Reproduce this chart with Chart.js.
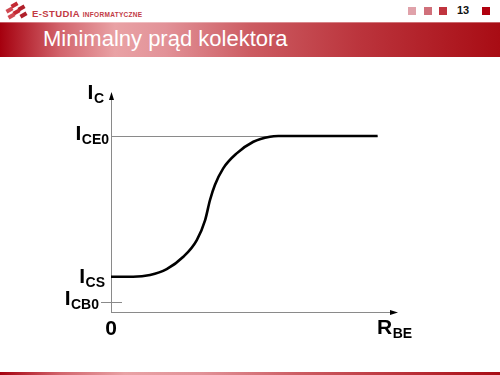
<!DOCTYPE html>
<html>
<head>
<meta charset="utf-8">
<script src="https://cdn.jsdelivr.net/npm/chart.js@4.4.1/dist/chart.umd.min.js"></script>
<style>
  html, body { margin: 0; padding: 0; background: #fff; }
  #page { position: relative; width: 500px; height: 375px; overflow: hidden; background: #fff; font-family: "Liberation Sans", Arial, sans-serif; }
  #band { position: absolute; left: 0; top: 22px; width: 500px; height: 35px;
    background: linear-gradient(to right, #a5000e 0%, #d2646c 12%, #e9a2a5 23%, #e29298 33%, #cc5c62 50%, #bb343c 72%, #a80c14 100%); }
  #band .hl { position: absolute; left: 0; top: 0; width: 500px; height: 1px; background: rgba(255,255,255,0.35); }
  #title { position: absolute; left: 43px; top: 24px; color: #fff; font-size: 22px; line-height: 30px; white-space: nowrap; }
  #foot { position: absolute; left: 0; top: 372px; width: 500px; height: 3px;
    background: linear-gradient(to right, #a5000e 0%, #d2646c 12%, #e9a2a5 25%, #e29298 40%, #cc5c62 60%, #bb343c 80%, #a80c14 100%); }
  #brand { position: absolute; left: 32px; top: 7px; line-height: 10px; color: #c23a44; white-space: nowrap; font-weight: bold; }
  #brand .big { font-size: 9.5px; letter-spacing: 0.4px; }
  #brand .small { font-size: 6.5px; letter-spacing: 0.3px; }
  .sq { position: absolute; top: 7px; width: 8px; height: 8px; }
  #num { position: absolute; left: 457px; top: 4px; font-size: 11px; font-weight: bold; color: #111; }
  .brick { position: absolute; width: 7px; height: 4px; background: #c42a34; transform: rotate(-30deg); }
  canvas#chart { position: absolute; left: 0; top: 0; }
</style>
</head>
<body>
<div id="page">
  <div class="brick" style="left:11px;top:3px;"></div>
  <div class="brick" style="left:18px;top:6px;background:#b0202a;"></div>
  <div class="brick" style="left:6px;top:8px;background:#d04a52;"></div>
  <div class="brick" style="left:13px;top:10px;"></div>
  <div class="brick" style="left:20px;top:13px;background:#b0202a;"></div>
  <div class="brick" style="left:8px;top:14px;background:#d04a52;"></div>
  <div id="brand"><span class="big">E-STUDIA </span><span class="small">INFORMATYCZNE</span></div>
  <div class="sq" style="left:408px;background:#e0a2aa;"></div>
  <div class="sq" style="left:424px;background:#d0707a;"></div>
  <div class="sq" style="left:439px;background:#c0343e;"></div>
  <div id="num">13</div>
  <div class="sq" style="left:482px;background:#b0000e;"></div>
  <div id="band"><div class="hl"></div></div>
  <div id="title">Minimalny prąd kolektora</div>
  <div id="foot"></div>
  <canvas id="chart" width="500" height="375"></canvas>
</div>
<script>
// ---- data ----
const rBE = [0, 7.7, 13.6, 19.4, 25.2, 29.9, 32.8, 34.5, 36.2, 39.1, 43.8, 49.6, 55.4, 58.3, 92.9];
const iC  = [16, 16, 16.8, 19.5, 25.1, 32.7, 41.8, 50.9, 57.7, 65.3, 72.1, 77.4, 79.7, 80, 80];
const yTickValues = [80, 16, 4.5];
const yTickMain = ['I', 'I', 'I'];
const yTickSub = ['CE0', 'CS', 'CB0'];
const xTickValues = [0];
const xTickLabels = ['0'];
const yTitle = ['I', 'C'];
const xTitle = ['R', 'BE'];

const points = rBE.map((x, i) => ({ x: x, y: iC[i] }));

const MAIN_FONT = 'bold 21px "Liberation Sans", Arial, sans-serif';
const SUB_FONT = 'bold 14px "Liberation Sans", Arial, sans-serif';

function drawSub(ctx, main, sub, x, baseline, align) {
  ctx.font = MAIN_FONT;
  const wm = ctx.measureText(main).width;
  ctx.font = SUB_FONT;
  const ws = ctx.measureText(sub).width;
  let start = x;
  if (align === 'right') start = x - wm - ws;
  ctx.textAlign = 'left';
  ctx.textBaseline = 'alphabetic';
  ctx.fillStyle = '#000';
  ctx.font = MAIN_FONT;
  ctx.fillText(main, start, baseline);
  ctx.font = SUB_FONT;
  ctx.fillText(sub, start + wm + 0.5, baseline + 4);
}

const axesPlugin = {
  id: 'axesPlugin',
  beforeDatasetsDraw(chart) {
    const ctx = chart.ctx;
    const xs = chart.scales.x, ys = chart.scales.y;
    const x0 = xs.getPixelForValue(0);
    const y0 = ys.getPixelForValue(0);
    const xEnd = xs.getPixelForValue(xs.max);
    const yEnd = ys.getPixelForValue(ys.max);
    ctx.save();
    ctx.strokeStyle = '#8a8a8a';
    ctx.lineWidth = 1;
    ctx.beginPath();
    ctx.moveTo(Math.round(x0) + 0.5, y0);
    ctx.lineTo(Math.round(x0) + 0.5, yEnd + 4);
    ctx.moveTo(x0, Math.round(y0) + 0.5);
    ctx.lineTo(xEnd - 4, Math.round(y0) + 0.5);
    // ICE0 reference line
    const yc = Math.round(ys.getPixelForValue(yTickValues[0])) + 0.5;
    ctx.moveTo(x0, yc);
    ctx.lineTo(xs.getPixelForValue(rBE[rBE.length - 1]), yc);
    // ICB0 short tick
    const yb = Math.round(ys.getPixelForValue(yTickValues[2])) + 0.5;
    ctx.moveTo(x0 - 10, yb);
    ctx.lineTo(x0 + 11, yb);
    ctx.stroke();
    ctx.restore();
  },
  afterDatasetsDraw(chart) {
    const ctx = chart.ctx;
    const xs = chart.scales.x, ys = chart.scales.y;
    const x0 = Math.round(xs.getPixelForValue(0)) + 0.5;
    const y0 = Math.round(ys.getPixelForValue(0)) + 0.5;
    const xEnd = xs.getPixelForValue(xs.max);
    const yEnd = ys.getPixelForValue(ys.max);
    ctx.save();
    ctx.fillStyle = '#000';
    // arrowheads
    ctx.beginPath();
    ctx.moveTo(x0, yEnd);
    ctx.lineTo(x0 - 2.5, yEnd + 8);
    ctx.lineTo(x0 + 2.5, yEnd + 8);
    ctx.closePath();
    ctx.fill();
    ctx.beginPath();
    ctx.moveTo(xEnd, y0);
    ctx.lineTo(xEnd - 8, y0 - 2.5);
    ctx.lineTo(xEnd - 8, y0 + 2.5);
    ctx.closePath();
    ctx.fill();
    // y tick labels
    const offsets = [{ dx: -3, dy: 4 }, { dx: -7, dy: 6 }, { dx: -13, dy: 3 }];
    yTickValues.forEach((v, i) => {
      const py = ys.getPixelForValue(v);
      drawSub(ctx, yTickMain[i], yTickSub[i], x0 + offsets[i].dx, py + offsets[i].dy, 'right');
    });
    // x tick labels
    ctx.font = 'bold 21px "Liberation Sans", Arial, sans-serif';
    ctx.textAlign = 'center';
    ctx.textBaseline = 'alphabetic';
    xTickValues.forEach((v, i) => {
      ctx.fillText(xTickLabels[i], xs.getPixelForValue(v), y0 + 22);
    });
    // axis titles
    drawSub(ctx, yTitle[0], yTitle[1], x0 - 8, yEnd + 7, 'right');
    drawSub(ctx, xTitle[0], xTitle[1], xEnd - 21, y0 + 21, 'left');
    ctx.restore();
  }
};

new Chart(document.getElementById('chart'), {
  type: 'line',
  data: {
    datasets: [{
      data: points,
      borderColor: '#000',
      borderWidth: 2.6,
      pointRadius: 0,
      fill: false,
      cubicInterpolationMode: 'monotone',
      borderCapStyle: 'butt'
    }]
  },
  options: {
    responsive: false,
    animation: false,
    events: [],
    layout: { padding: { left: 111, right: 102, top: 92, bottom: 63 } },
    scales: {
      x: { type: 'linear', min: 0, max: 100, display: false },
      y: { type: 'linear', min: 0, max: 100, display: false }
    },
    plugins: { legend: { display: false }, tooltip: { enabled: false } }
  },
  plugins: [axesPlugin]
});
</script>
</body>
</html>
